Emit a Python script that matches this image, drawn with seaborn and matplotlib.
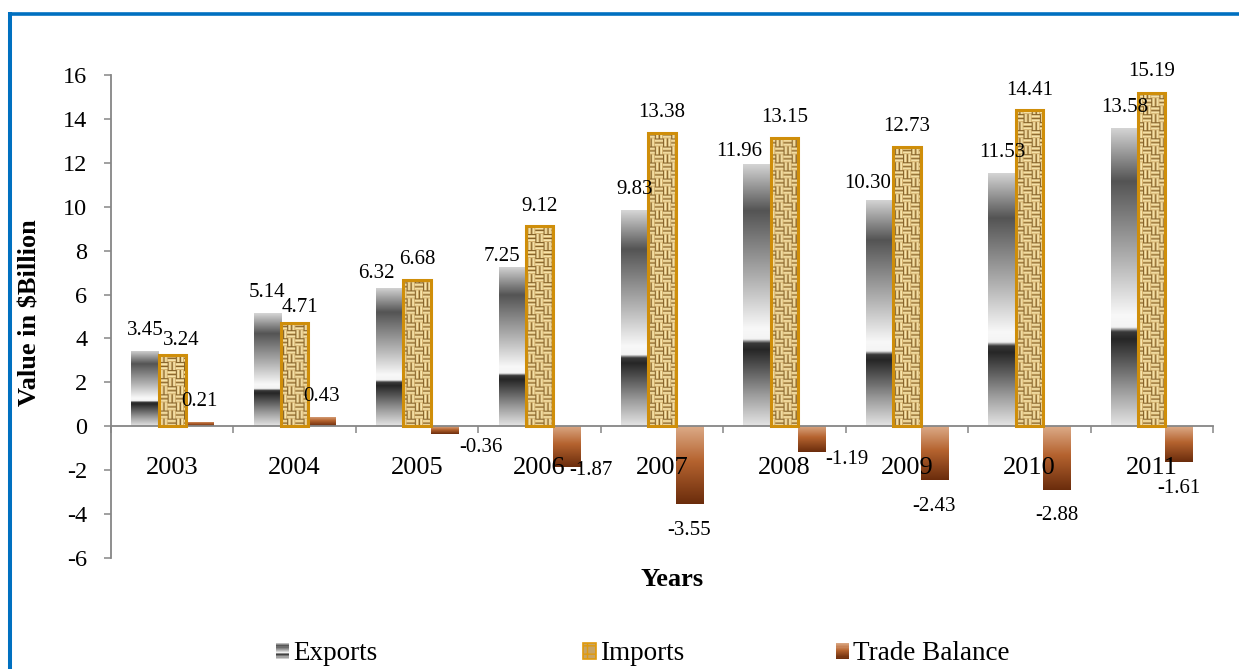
import numpy as np
import pandas as pd
import matplotlib
matplotlib.use("Agg")
import matplotlib.pyplot as plt
from matplotlib.colors import LinearSegmentedColormap
from matplotlib.lines import Line2D
from matplotlib.patches import Rectangle
from matplotlib.legend_handler import HandlerBase
import seaborn as sns

# ---- data ($ billion) ----
years = ["2003", "2004", "2005", "2006", "2007", "2008", "2009", "2010", "2011"]
exports = [3.45, 5.14, 6.32, 7.25, 9.83, 11.96, 10.30, 11.53, 13.58]
imports = [3.24, 4.71, 6.68, 9.12, 13.38, 13.15, 12.73, 14.41, 15.19]
trade_balance = [0.21, 0.43, -0.36, -1.87, -3.55, -1.19, -2.43, -2.88, -1.61]
series_names = ["Exports", "Imports", "Trade Balance"]
y_ticks = list(range(-6, 17, 2))

# value-label nudges in pixels (dx, dy with dy pointing up)
exports_nudge = [(0, 23), (0, 23), (-13, 17), (-10, 13), (0, 23), (-18, 15), (-12, 19), (0, 23), (0, 23)]
imports_nudge = [(9, 17), (5, 18), (0, 23), (0, 22), (0, 23), (0, 23), (0, 23), (0, 22), (0, 24)]
trade_nudge = [(0, 23), (0, 23), (36, -11), (24, -1), (0, -24), (35, -5), (0, -24), (0, -23), (0, -24)]

W, H, DPI = 1239, 669, 100
GRAY = "#868686"

sns.set_style("white")
plt.rcParams["font.family"] = ["Liberation Serif", "DejaVu Serif"]
plt.rcParams["text.color"] = "black"
plt.rcParams["axes.labelcolor"] = "black"
plt.rcParams["xtick.color"] = "black"
plt.rcParams["ytick.color"] = "black"

fig = plt.figure(figsize=(W / DPI, H / DPI), dpi=DPI)
ax_l, ax_r, ax_t, ax_b = 111, 1213, 75, 558
ax = fig.add_axes([ax_l / W, 1 - ax_b / H, (ax_r - ax_l) / W, (ax_b - ax_t) / H])

df = pd.DataFrame({
    "Year": years * 3,
    "Series": [s for s in series_names for _ in years],
    "Value": exports + imports + trade_balance,
})
sns.barplot(data=df, x="Year", y="Value", hue="Series", order=years,
            hue_order=series_names, width=0.67, gap=0, errorbar=None,
            saturation=1, legend=False, ax=ax,
            palette=["#8c8c8c", "#c9a862", "#b4683a"])

ax.set_xlim(-0.5, 8.5)
ax.set_ylim(-6, 16)

# fills
chrome = LinearSegmentedColormap.from_list("chrome", [
    (0.00, "#e4e4e4"), (0.12, "#9a9a9a"), (0.29, "#262626"), (0.315, "#3a3a3a"),
    (0.33, "#f4f4f4"), (0.37, "#f8f8f8"), (0.55, "#b4b4b4"), (0.82, "#545454"),
    (1.00, "#d6d6d6")])
copper = LinearSegmentedColormap.from_list("copper_fill", [
    (0.0, "#6a2c0c"), (0.55, "#b5632f"), (1.0, "#dcab88")])
burlap = LinearSegmentedColormap.from_list("burlap", [
    (0.0, "#5a3c0e"), (0.5, "#c49a52"), (1.0, "#f8e6ae")])


def weave_texture(h, w, cell=8):
    i = np.arange(h)[:, None]
    j = np.arange(w)[None, :]
    block = ((i // cell) + (j // cell)) % 2
    prof = np.array([0.2, 0.85, 1.0, 0.65])
    strand = cell // 2
    horiz = prof[(i % strand) * 4 // strand]
    vert = prof[(j % strand) * 4 // strand]
    t = np.where(block == 0, horiz, vert)
    return burlap(t)[..., :3]


texture = weave_texture(ax_b - ax_t, ax_r - ax_l)
ramp = np.linspace(0, 1, 256).reshape(-1, 1)

values = [exports, imports, trade_balance]
nudges = [exports_nudge, imports_nudge, trade_nudge]
for k, (container, vals, nud) in enumerate(zip(ax.containers, values, nudges)):
    for bar, v, (dx, dy) in zip(container, vals, nud):
        x0, w = bar.get_x(), bar.get_width()
        y0, h = bar.get_y(), bar.get_height()
        ymin, ymax = min(y0, y0 + h), max(y0, y0 + h)
        if k == 1:
            im = ax.imshow(texture, extent=(-0.5, 8.5, -6, 16), origin="upper",
                           aspect="auto", interpolation="bilinear", zorder=2)
            bar.set_facecolor("none")
            bar.set_edgecolor("#cf8e0a")
            bar.set_linewidth(2.2)
            bar.set_zorder(3)
        else:
            cmap = chrome if k == 0 else copper
            im = ax.imshow(ramp, cmap=cmap, extent=(x0, x0 + w, ymin, ymax),
                           origin="lower", aspect="auto",
                           interpolation="bilinear", zorder=2)
            bar.set_facecolor("none")
            bar.set_linewidth(0)
        im.set_clip_path(bar)
        ax.annotate(f"{v:.2f}", xy=(x0 + w / 2, v), xytext=(dx, dy),
                    textcoords="offset pixels", ha="center",
                    va="center_baseline", fontsize=15, color="black", zorder=5)

ax.set_xlim(-0.5, 8.5)
ax.set_ylim(-6, 16)
ax.set_aspect("auto")
ax.set_axisbelow(False)

# axes styling
for side in ["top", "right"]:
    ax.spines[side].set_visible(False)
ax.spines["bottom"].set_position(("data", 0))
for side in ["left", "bottom"]:
    ax.spines[side].set_color(GRAY)
    ax.spines[side].set_linewidth(1.3)

ax.set_yticks(y_ticks)
ax.set_yticklabels([str(t) for t in y_ticks])
ax.tick_params(axis="y", left=True, direction="out", length=5, width=1.1,
               color=GRAY, labelcolor="black", labelsize=17.5, pad=12)
ax.set_xticks(range(len(years)))
ax.set_xticklabels(years)
ax.tick_params(axis="x", which="major", bottom=True, length=0, pad=22,
               labelcolor="black", labelsize=19)
ax.set_xticks(np.arange(-0.5, len(years), 1), minor=True)
ax.tick_params(axis="x", which="minor", bottom=True, direction="out",
               length=5, width=1.1, color=GRAY)

ax.set_xlabel("Years", fontsize=19, fontweight="bold", color="black")
ax.xaxis.set_label_coords((672 - ax_l) / (ax_r - ax_l), (ax_b - 580) / (ax_b - ax_t))
ax.xaxis.label.set_va("center")
ax.set_ylabel("Value in $Billion", fontsize=19, fontweight="bold", color="black")
ax.yaxis.set_label_coords((30 - ax_l) / (ax_r - ax_l), (ax_b - 313) / (ax_b - ax_t))
ax.yaxis.label.set_va("center")


# legend
class StripeHandler(HandlerBase):
    def __init__(self, cmap):
        super().__init__()
        self.cmap = cmap

    def create_artists(self, legend, orig_handle, xdescent, ydescent,
                       width, height, fontsize, trans):
        n = 14
        arts = []
        for i in range(n):
            arts.append(Rectangle((-xdescent, -ydescent + height * i / n),
                                  width, height / n * 1.05,
                                  facecolor=self.cmap((i + 0.5) / n),
                                  lw=0, antialiased=False, transform=trans))
        return arts


exp_proxy = Rectangle((0, 0), 1, 1)
trade_proxy = Rectangle((0, 0), 1, 1)
imp_proxy = Rectangle((0, 0), 1, 1, facecolor="#c8a464", edgecolor="#e09a0c",
                      hatch="++", lw=1.2)

legend_items = [
    (exp_proxy, "Exports", 276, {exp_proxy: StripeHandler(chrome)}),
    (imp_proxy, "Imports", 583, None),
    (trade_proxy, "Trade Balance", 836, {trade_proxy: StripeHandler(copper)}),
]
for handle, label, xpx, hmap in legend_items:
    fig.legend([handle], [label], loc="center left",
               bbox_to_anchor=(xpx / W, 1 - 654 / H), frameon=False,
               borderpad=0, borderaxespad=0, handlelength=0.47,
               handleheight=0.5, handletextpad=0.15, fontsize=19.5,
               handler_map=hmap, labelcolor="black")

# frame lines along the top and left edges
fig.add_artist(Line2D([10.3 / W, 1], [1 - 13.5 / H] * 2, transform=fig.transFigure,
                      color="#0070c0", lw=2.6, solid_capstyle="butt"))
fig.add_artist(Line2D([10.3 / W] * 2, [0, 1 - 12 / H], transform=fig.transFigure,
                      color="#0070c0", lw=2.9, solid_capstyle="butt"))

fig.savefig("out.png", dpi=DPI)
